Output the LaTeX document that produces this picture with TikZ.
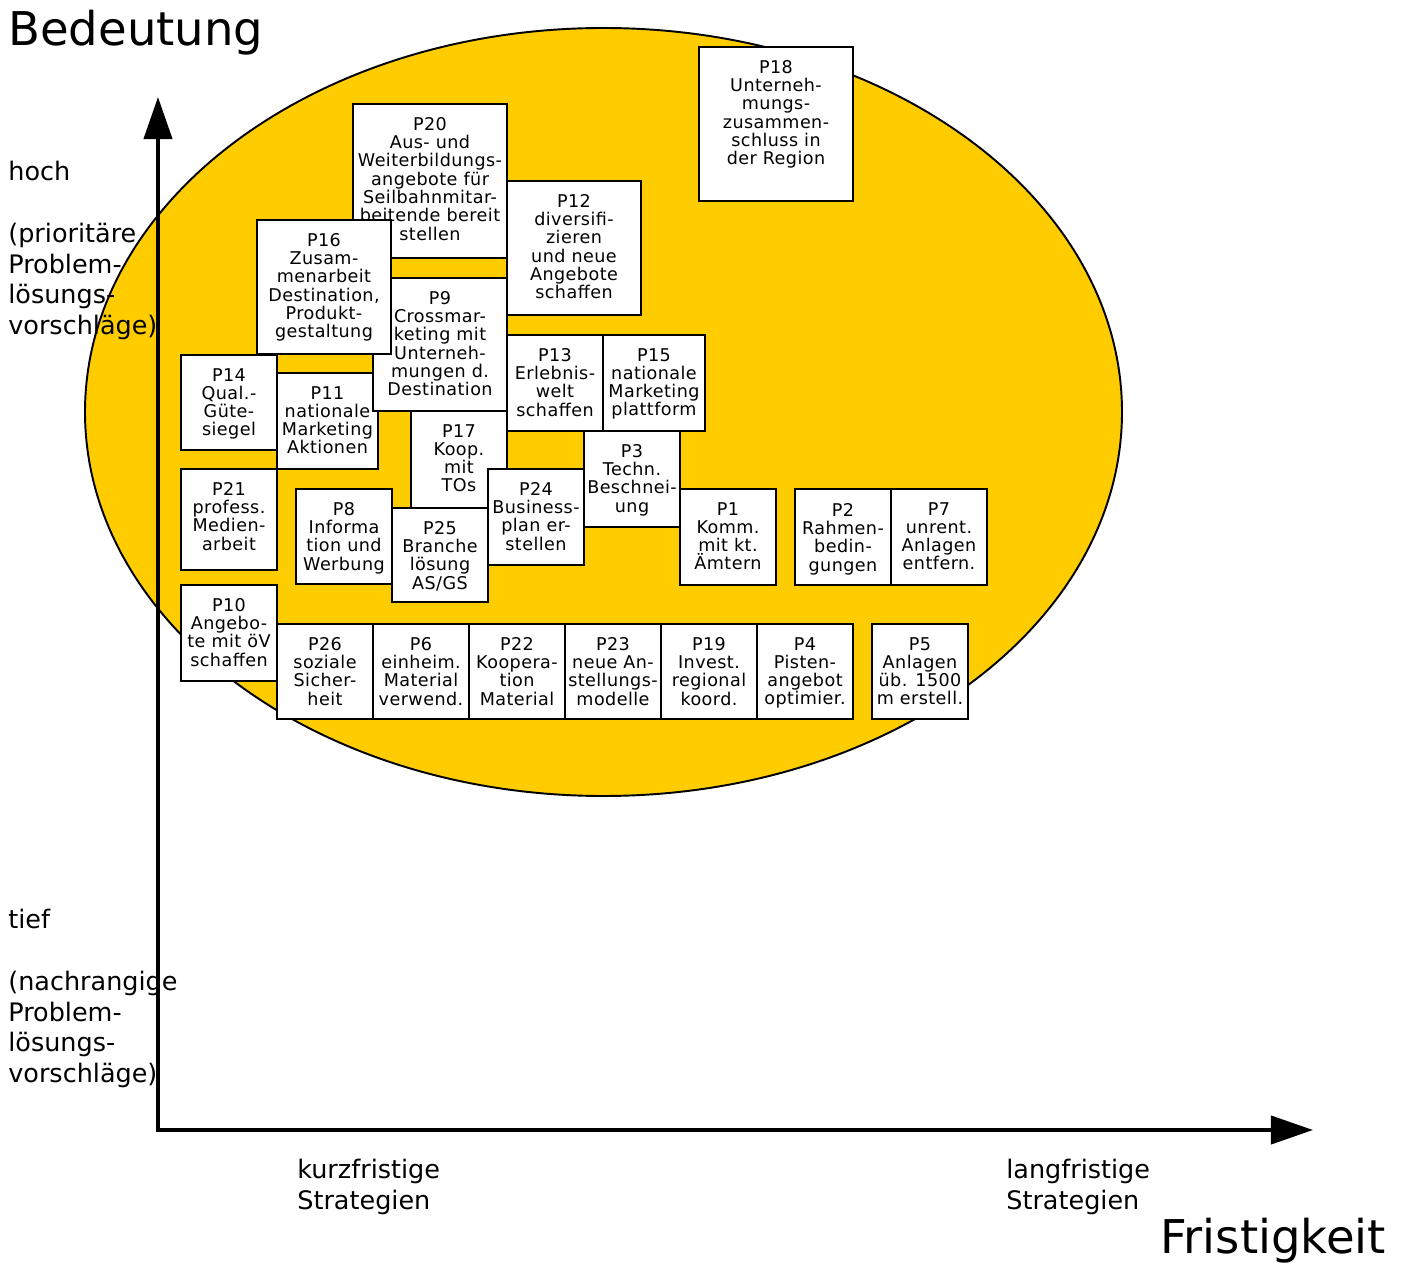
\documentclass[tikz,border=0pt]{standalone}
\usepackage{fontspec}
\setmainfont{DejaVu Sans}
\newfontfamily\boxfont[LetterSpace=2.5]{DejaVu Sans}
\usepackage{tikz}
\usetikzlibrary{arrows.meta}

\definecolor{ellyellow}{RGB}{255,204,0}

\begin{document}
\begin{tikzpicture}[x=0.02cm, y=-0.02cm,
    pbox/.style={draw, fill=white, line width=1.3pt},
    ptext/.style={anchor=north, align=center, inner sep=0pt,
      font=\boxfont\fontsize{10}{10.4}\selectfont},
    side/.style={anchor=north west, align=left, inner sep=0pt,
      font=\fontsize{14.5}{17.6}\selectfont},
    axlabel/.style={anchor=north west, inner sep=0pt,
      font=\fontsize{26.5}{30}\selectfont}]
    \useasboundingbox (0, 0) rectangle (1411, 1263);
    % ellipse
    \draw [fill=ellyellow, line width=1.1pt] (603.5, 412) ellipse [x radius=518.5, y radius=384];
    % axes
    \coordinate (origin) at (158, 1130);
    \coordinate (ytip)   at (158, 97);
    \coordinate (xtip)   at (1313, 1130);
    \draw [line width=2.3pt, {Triangle[length=24pt, width=16pt]}-{Triangle[length=24pt, width=16pt]}]
      (ytip) -- (origin) -- (xtip);
    \node [axlabel] (bedeutung)   at (8, 10)     {Bedeutung};
    \node [axlabel] (fristigkeit) at (1160, 1218) {Fristigkeit};
    \node [side] (hoch) at (8, 160.6) {hoch\\[17.6pt](prioritäre\\Problem-\\lösungs-\\vorschläge)};
    \node [side] (tief) at (8, 908.6) {tief\\[17.6pt](nachrangige\\Problem-\\lösungs-\\vorschläge)};
    \node [side] (kurz) at (297, 1158.6) {kurzfristige\\Strategien};
    \node [side] (lang) at (1006, 1158.6) {langfristige\\Strategien};
    % P18
    \draw [pbox] (699, 47) rectangle (853, 201);
    \node [ptext] (p18) at (776, 60) {P18\\Unterneh-\\mungs-\\zusammen-\\schluss in\\der Region};
    % P20
    \draw [pbox] (353, 104) rectangle (507, 258);
    \node [ptext] (p20) at (430, 117) {P20\\Aus- und\\Weiterbildungs-\\angebote für\\Seilbahnmitar-\\beitende bereit\\stellen};
    % P12
    \draw [pbox] (507, 181) rectangle (641, 315);
    \node [ptext] (p12) at (574, 194) {P12\\diversifi-\\zieren\\und neue\\Angebote\\schaffen};
    % P11
    \draw [pbox] (277, 373) rectangle (378, 469);
    \node [ptext] (p11) at (327.5, 386) {P11\\nationale\\Marketing\\Aktionen};
    % P9
    \draw [pbox] (373, 278) rectangle (507, 411);
    \node [ptext] (p9) at (440, 291) {P9\\Crossmar-\\keting mit\\Unterneh-\\mungen d.\\Destination};
    % P16
    \draw [pbox] (257, 220) rectangle (391, 354);
    \node [ptext] (p16) at (324, 233) {P16\\Zusam-\\menarbeit\\Destination,\\Produkt-\\gestaltung};
    % P14
    \draw [pbox] (181, 355) rectangle (277, 450);
    \node [ptext] (p14) at (229, 368) {P14\\Qual.-\\Güte-\\siegel};
    % P13
    \draw [pbox] (507, 335) rectangle (603, 431);
    \node [ptext] (p13) at (555, 348) {P13\\Erlebnis-\\welt\\schaffen};
    % P15
    \draw [pbox] (603, 335) rectangle (705, 431);
    \node [ptext] (p15) at (654, 348) {P15\\nationale\\Marketing\\plattform};
    % P17
    \draw [pbox] (411, 411) rectangle (507, 508);
    \node [ptext] (p17) at (459, 424) {P17\\Koop.\\mit\\TOs};
    % P24
    \draw [pbox] (488, 469) rectangle (584, 565);
    \node [ptext] (p24) at (536, 482) {P24\\Business-\\plan er-\\stellen};
    % P3
    \draw [pbox] (584, 431) rectangle (680, 527);
    \node [ptext] (p3) at (632, 444) {P3\\Techn.\\Beschnei-\\ung};
    % P21
    \draw [pbox] (181, 469) rectangle (277, 570);
    \node [ptext] (p21) at (229, 482) {P21\\profess.\\Medien-\\arbeit};
    % P8
    \draw [pbox] (296, 489) rectangle (392, 584);
    \node [ptext] (p8) at (344, 502) {P8\\Informa\\tion und\\Werbung};
    % P25
    \draw [pbox] (392, 508) rectangle (488, 602);
    \node [ptext] (p25) at (440, 521) {P25\\Branche\\lösung\\AS/GS};
    % P1
    \draw [pbox] (680, 489) rectangle (776, 585);
    \node [ptext] (p1) at (728, 502) {P1\\Komm.\\mit kt.\\Ämtern};
    % P2
    \draw [pbox] (795, 489) rectangle (891, 585);
    \node [ptext] (p2) at (843, 503) {P2\\Rahmen-\\bedin-\\gungen};
    % P7
    \draw [pbox] (891, 489) rectangle (987, 585);
    \node [ptext] (p7) at (939, 502) {P7\\unrent.\\Anlagen\\entfern.};
    % P10
    \draw [pbox] (181, 585) rectangle (277, 681);
    \node [ptext] (p10) at (229, 598) {P10\\Angebo-\\te mit öV\\schaffen};
    % P26
    \draw [pbox] (277, 624) rectangle (373, 719);
    \node [ptext] (p26) at (325, 637) {P26\\soziale\\Sicher-\\heit};
    % P6
    \draw [pbox] (373, 624) rectangle (469, 719);
    \node [ptext] (p6) at (421, 637) {P6\\einheim.\\Material\\verwend.};
    % P22
    \draw [pbox] (469, 624) rectangle (565, 719);
    \node [ptext] (p22) at (517, 637) {P22\\Koopera-\\tion\\Material};
    % P23
    \draw [pbox] (565, 624) rectangle (661, 719);
    \node [ptext] (p23) at (613, 637) {P23\\neue An-\\stellungs-\\modelle};
    % P19
    \draw [pbox] (661, 624) rectangle (757, 719);
    \node [ptext] (p19) at (709, 637) {P19\\Invest.\\regional\\koord.};
    % P4
    \draw [pbox] (757, 624) rectangle (853, 719);
    \node [ptext] (p4) at (805, 637) {P4\\Pisten-\\angebot\\optimier.};
    % P5
    \draw [pbox] (872, 624) rectangle (968, 719);
    \node [ptext] (p5) at (920, 637) {P5\\Anlagen\\üb. 1500\\m erstell.};
  \end{tikzpicture}
\end{document}
